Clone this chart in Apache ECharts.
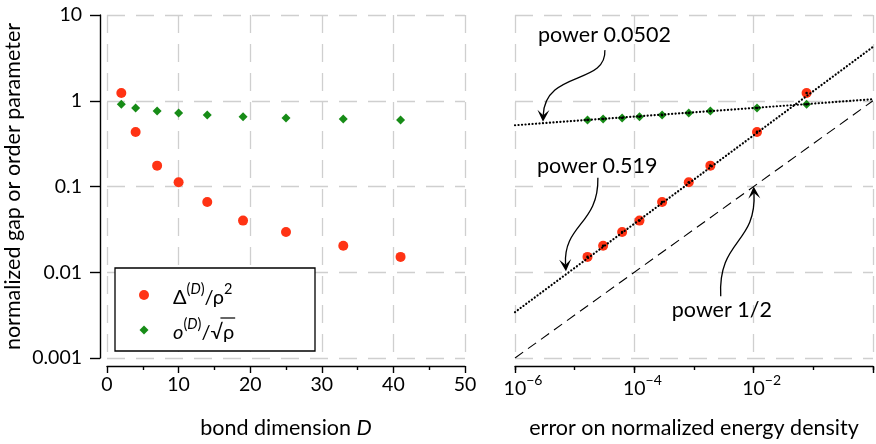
<!DOCTYPE html>
<html><head><meta charset="utf-8">
<script src="https://cdn.jsdelivr.net/npm/echarts@6/dist/echarts.min.js"></script>
<style>html,body{margin:0;padding:0;background:#fff}#c{width:876px;height:444px}</style>
</head><body><div id="c"></div>
<script>
// ---- data ----
const bondDim = [2, 4, 7, 10, 14, 19, 25, 33, 41];
const gapNorm = [1.23, 0.433, 0.175, 0.112, 0.066, 0.040, 0.0295, 0.0204, 0.0151];
const orderNorm = [0.908, 0.822, 0.76, 0.72, 0.68, 0.652, 0.629, 0.612, 0.597];
const energyError = [0.0771, 0.01138, 0.00188, 8.17e-4, 2.92e-4, 1.22e-4, 6.25e-5, 3.0e-5, 1.64e-5];
const gapFit = [[1e-6, 0.00343], [1, 4.25]];      // power 0.519
const orderFit = [[1e-6, 0.518], [1, 1.04]];      // power 0.0502
const halfPower = [[1e-6, 0.001], [1, 1]];        // power 1/2
const yTickLabels = ['0.001', '0.01', '0.1', '1', '10'];   // exponents -3..1
const xTickExponents = ['−6', '−4', '−2'];              // exponents -6,-4,-2
const annTexts = ['power 0.0502', 'power 0.519', 'power 1/2'];

// ---- styles / layout ----
const FONT = 'Lato';
const FS = 19.5;     // tick labels
const FW = 21.5;     // words
const RED = '#ff3314';
const GREEN = '#178c17';
const GRID_LINE = {show: true, lineStyle: {color: '#cfcfcf', width: 1.3, type: [18, 11]}};
const AX_LINE = {show: true, onZero: false, lineStyle: {color: '#000', width: 1.4}};

const chart = echarts.init(document.getElementById('c'), null, {renderer: 'canvas'});

const leftGrid = {left: 107, right: 411, top: 15, bottom: 85};
const rightGrid = {left: 515, right: 3, top: 15, bottom: 85};

const option = {
  animation: false,
  backgroundColor: '#fff',
  textStyle: {fontFamily: FONT},
  grid: [leftGrid, rightGrid, Object.assign({}, rightGrid)],
  xAxis: [
    {gridIndex: 0, type: 'value', min: 0, max: 50, interval: 10, offset: 8,
     axisLine: AX_LINE,
     axisTick: {show: true, length: 7, lineStyle: {color: '#000', width: 1.4}},
     minorTick: {show: true, splitNumber: 2, length: 4, lineStyle: {color: '#000', width: 1.4}},
     axisLabel: {color: '#000', fontSize: FS, fontFamily: FONT, margin: 9},
     splitLine: GRID_LINE,
     name: 'bond dimension {i|D}', nameLocation: 'middle', nameGap: 51,
     nameTextStyle: {color: '#000', fontSize: FW, fontFamily: FONT,
       rich: {i: {fontStyle: 'italic', fontSize: FW, fontFamily: FONT, color: '#000'}}}},
    {gridIndex: 1, type: 'log', min: 1e-6, max: 1, interval: 2, offset: 8,
     axisLine: AX_LINE,
     axisTick: {show: true, length: 7, lineStyle: {color: '#000', width: 1.4}},
     axisLabel: {color: '#000', margin: 7,
       formatter: function (v) {
         const e = Math.round(Math.log10(v));
         const idx = (e + 6) / 2;
         if (e >= 0 || idx !== Math.floor(idx)) return '';
         return '{sp|\u00a0}{b|10}{s|' + xTickExponents[idx] + '}';
       },
       rich: {
         sp: {width: 16, fontSize: FS},
         b: {fontSize: FS, fontFamily: FONT, color: '#000', lineHeight: 26, verticalAlign: 'bottom'},
         s: {fontSize: 14, fontFamily: FONT, color: '#000', lineHeight: 14, verticalAlign: 'top'}
       }},
     splitLine: GRID_LINE,
     name: 'error on normalized energy density', nameLocation: 'middle', nameGap: 51,
     nameTextStyle: {color: '#000', fontSize: FW, fontFamily: FONT}},
    {gridIndex: 2, type: 'log', min: 1e-6, max: 1, interval: 1, offset: 8,
     axisLine: {show: false, onZero: false},
     axisTick: {show: true, length: 3, lineStyle: {color: '#000', width: 1.4}},
     axisLabel: {show: false}, splitLine: {show: false}}
  ],
  yAxis: [
    {gridIndex: 0, type: 'log', min: 0.001, max: 10, offset: 7,
     axisLine: AX_LINE,
     axisTick: {show: true, length: 10, lineStyle: {color: '#000', width: 1.4}},
     axisLabel: {color: '#000', fontSize: FS, fontFamily: FONT, margin: 18, align: 'right',
       formatter: function (v) { return yTickLabels[Math.round(Math.log10(v)) + 3]; }},
     splitLine: GRID_LINE,
     name: 'normalized gap or order parameter', nameLocation: 'middle', nameGap: 76, nameRotate: 90,
     nameMoveOverlap: false,
     nameTextStyle: {color: '#000', fontSize: FW, fontFamily: FONT}},
    {gridIndex: 1, type: 'log', min: 0.001, max: 10,
     axisLine: {show: false, onZero: false}, axisTick: {show: false}, axisLabel: {show: false},
     splitLine: GRID_LINE},
    {gridIndex: 2, type: 'log', min: 0.001, max: 10, show: false}
  ],
  series: [
    {name: 'gapLeft', type: 'scatter', xAxisIndex: 0, yAxisIndex: 0, symbol: 'circle', symbolSize: 10,
     itemStyle: {color: RED, opacity: 1}, data: bondDim.map((d, i) => [d, gapNorm[i]]), z: 3},
    {name: 'orderLeft', type: 'scatter', xAxisIndex: 0, yAxisIndex: 0, symbol: 'diamond', symbolSize: 9,
     itemStyle: {color: GREEN, opacity: 1}, data: bondDim.map((d, i) => [d, orderNorm[i]]), z: 3},
    {name: 'gapRight', type: 'scatter', xAxisIndex: 1, yAxisIndex: 1, symbol: 'circle', symbolSize: 10,
     itemStyle: {color: RED, opacity: 1}, data: energyError.map((e, i) => [e, gapNorm[i]]), z: 3},
    {name: 'orderRight', type: 'scatter', xAxisIndex: 1, yAxisIndex: 1, symbol: 'diamond', symbolSize: 9,
     itemStyle: {color: GREEN, opacity: 1}, data: energyError.map((e, i) => [e, orderNorm[i]]), z: 3},
    {name: 'gapFit', type: 'line', xAxisIndex: 1, yAxisIndex: 1, showSymbol: false, silent: true, z: 4,
     lineStyle: {color: '#000', width: 2.2, type: [0.1, 3.4], cap: 'round'}, data: gapFit},
    {name: 'orderFit', type: 'line', xAxisIndex: 1, yAxisIndex: 1, showSymbol: false, silent: true, z: 4,
     lineStyle: {color: '#000', width: 2.2, type: [0.1, 3.4], cap: 'round'}, data: orderFit},
    {name: 'halfPower', type: 'line', xAxisIndex: 1, yAxisIndex: 1, showSymbol: false, silent: true, z: 4,
     lineStyle: {color: '#000', width: 1.1, type: [10, 6]}, data: halfPower},
    {name: 'gapDots', type: 'scatter', xAxisIndex: 1, yAxisIndex: 1, symbol: 'circle', symbolSize: 2.6, z: 5,
     itemStyle: {color: '#000', opacity: 1}, data: energyError.map((e, i) => [e, gapNorm[i]])},
    {name: 'orderDots', type: 'scatter', xAxisIndex: 1, yAxisIndex: 1, symbol: 'circle', symbolSize: 2.6, z: 5,
     itemStyle: {color: '#000', opacity: 1}, data: energyError.map((e, i) => [e, orderNorm[i]])}
  ]
};
chart.setOption(option);

// ---- annotations (anchored in data space, log10 exponents) ----
const annAnchors = [
  {textAt: [-5.615, 0.764], curve: [[-4.494, 0.590], [-4.460, 0.184], [-5.498, 0.358], [-5.531, -0.246]]},
  {textAt: [-5.632, -0.757], curve: [[-4.611, -0.897], [-4.594, -1.443], [-5.197, -1.443], [-5.146, -1.989]]},
  {textAt: [-3.372, -2.442], curve: [[-2.552, -2.279], [-2.603, -1.617], [-1.950, -1.675], [-2.0, -1.0]]}
];
function toPx(p) { return chart.convertToPixel({gridIndex: 1}, [Math.pow(10, p[0]), Math.pow(10, p[1])]); }

const graphics = [];
annAnchors.forEach(function (a, k) {
  const t = toPx(a.textAt);
  graphics.push({type: 'text', x: t[0], y: t[1], z: 100,
    style: {text: annTexts[k], fontSize: FW, fontFamily: FONT, fill: '#000', align: 'left', verticalAlign: 'middle'}});
  const c = a.curve.map(toPx);
  const tip = c[3];
  let dx = tip[0] - c[2][0], dy = tip[1] - c[2][1];
  const len = Math.hypot(dx, dy); dx /= len; dy /= len;
  const nx = -dy, ny = dx;
  const L = 12, W = 6;
  const notch = [tip[0] - dx * L * 0.55, tip[1] - dy * L * 0.55];
  graphics.push({type: 'bezierCurve', z: 100,
    shape: {x1: c[0][0], y1: c[0][1], cpx1: c[1][0], cpy1: c[1][1], cpx2: c[2][0], cpy2: c[2][1], x2: notch[0], y2: notch[1]},
    style: {stroke: '#000', lineWidth: 1.3, fill: null}});
  graphics.push({type: 'polygon', z: 100,
    shape: {points: [tip,
      [tip[0] - dx * L + nx * W, tip[1] - dy * L + ny * W],
      notch,
      [tip[0] - dx * L - nx * W, tip[1] - dy * L - ny * W]]},
    style: {fill: '#000'}});
});

// ---- legend ----
const ctx = document.createElement('canvas').getContext('2d');
function mw(t, f) { ctx.font = f; return ctx.measureText(t).width; }
const LFS = 20, SFS = 14.5;
const lx = 173, ly1 = 295, ly2 = 330;
const rich = {
  b: {fontSize: LFS, fontFamily: FONT, color: '#000', lineHeight: 26, verticalAlign: 'bottom'},
  bi: {fontSize: LFS, fontFamily: FONT, fontStyle: 'italic', color: '#000', lineHeight: 26, verticalAlign: 'bottom'},
  s: {fontSize: SFS, fontFamily: FONT, color: '#000', lineHeight: 14, verticalAlign: 'top'},
  si: {fontSize: SFS, fontFamily: FONT, fontStyle: 'italic', color: '#000', lineHeight: 14, verticalAlign: 'top'}
};
const preW = mw('o', 'italic ' + LFS + 'px ' + FONT) + mw('(', SFS + 'px ' + FONT) +
  mw('D', 'italic ' + SFS + 'px ' + FONT) + mw(')', SFS + 'px ' + FONT) + mw('/', LFS + 'px ' + FONT);
const sqW = mw('√', LFS + 'px ' + FONT), rhoW = mw('ρ', LFS + 'px ' + FONT);
graphics.push(
  {type: 'rect', z: 90, shape: {x: 115, y: 268, width: 200, height: 83},
   style: {fill: '#fff', stroke: '#000', lineWidth: 1.3}},
  {type: 'circle', z: 91, shape: {cx: 144, cy: ly1, r: 5}, style: {fill: RED}},
  {type: 'polygon', z: 91, shape: {points: [[144, ly2 - 4.5], [148.5, ly2], [144, ly2 + 4.5], [139.5, ly2]]}, style: {fill: GREEN}},
  {type: 'text', z: 91, x: lx, y: ly1,
   style: {text: '{b|Δ}{s|(}{si|D}{s|)}{b|/ρ}{s|2}', rich: rich, verticalAlign: 'middle', align: 'left'}},
  {type: 'text', z: 91, x: lx, y: ly2,
   style: {text: '{bi|o}{s|(}{si|D}{s|)}{b|/√ρ}', rich: rich, verticalAlign: 'middle', align: 'left'}},
  {type: 'line', z: 92, shape: {x1: lx + preW + sqW * 0.8, y1: ly2 - 12, x2: lx + preW + sqW + rhoW + 1, y2: ly2 - 12},
   style: {stroke: '#000', lineWidth: 1.2}}
);
chart.setOption({graphic: graphics});
</script>
</body></html>
